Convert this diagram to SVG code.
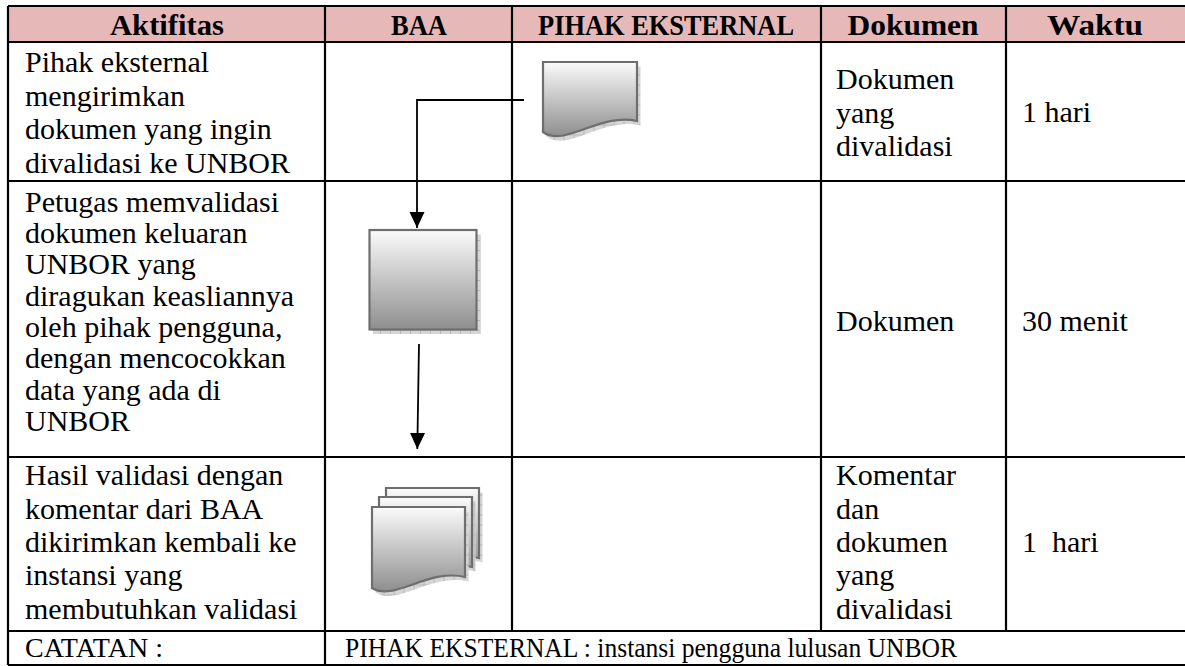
<svg xmlns="http://www.w3.org/2000/svg" width="1185" height="666" viewBox="0 0 1185 666">
  <defs>
    <style>
      .grid { stroke: #000; stroke-width: 2.2; fill: none; }
      .hd { font-family: "Liberation Serif", serif; font-weight: bold; font-size: 29px; text-anchor: middle; fill: #000; }
      .tx { font-family: "Liberation Serif", serif; font-size: 30px; fill: #000; }
      .nt { font-family: "Liberation Serif", serif; font-size: 27px; fill: #000; }
      .shape { fill: url(#shade); stroke: #6e6e6e; stroke-width: 2.2; }
      .shadow { fill: url(#hatch); stroke: none; }
      .conn { stroke: #000; stroke-width: 1.8; fill: none; }
    </style>
    <linearGradient id="shade" x1="0" y1="0" x2="0" y2="1">
      <stop offset="0" stop-color="#fbfbfb"/>
      <stop offset="1" stop-color="#8e8e8e"/>
    </linearGradient>
    <pattern id="hatch" width="10" height="10" patternUnits="userSpaceOnUse">
      <rect width="10" height="10" fill="#d6d6d6"/>
      <path d="M0 0.5H10M0.5 0V10" stroke="#b8b8b8" stroke-width="1"/>
    </pattern>
    <marker id="arrow" markerUnits="userSpaceOnUse" markerWidth="16" markerHeight="16" viewBox="0 0 16 16" refX="16" refY="8" orient="auto">
      <path d="M0,0.5 L16,8 L0,15.5 Z" fill="#000"/>
    </marker>
  </defs>

  <rect width="1185" height="666" fill="#fff"/>

  <!-- table frame -->
  <g id="table">
    <rect x="8" y="6" width="1180" height="36" fill="#e6b8b7"/>
    <path class="grid" d="M8,6H1188M8,42H1188M8,181H1188M8,457H1188M8,631H1188M8,665H1188"/>
    <path class="grid" d="M8,6V665M325,6V665M512,6V631M821,6V631M1006,6V631"/>
  </g>

  <!-- column headers -->
  <g id="headers">
    <text class="hd" x="167" y="35" textLength="114" lengthAdjust="spacingAndGlyphs">Aktifitas</text>
    <text class="hd" x="419" y="35" textLength="56" lengthAdjust="spacingAndGlyphs">BAA</text>
    <text class="hd" x="666" y="35" textLength="256" lengthAdjust="spacingAndGlyphs">PIHAK EKSTERNAL</text>
    <text class="hd" x="913" y="35" textLength="131" lengthAdjust="spacingAndGlyphs">Dokumen</text>
    <text class="hd" x="1095" y="35" textLength="96" lengthAdjust="spacingAndGlyphs">Waktu</text>
  </g>

  <!-- row 1 -->
  <g id="row1">
    <text class="tx" x="25" y="71.5">Pihak eksternal</text>
    <text class="tx" x="25" y="105.5">mengirimkan</text>
    <text class="tx" x="25" y="139">dokumen yang ingin</text>
    <text class="tx" x="25" y="173">divalidasi ke UNBOR</text>
    <text class="tx" x="836" y="89">Dokumen</text>
    <text class="tx" x="836" y="122.5">yang</text>
    <text class="tx" x="836" y="156">divalidasi</text>
    <text class="tx" x="1022" y="122">1 hari</text>
  </g>

  <!-- row 2 -->
  <g id="row2">
    <text class="tx" x="25" y="212">Petugas memvalidasi</text>
    <text class="tx" x="25" y="243">dokumen keluaran</text>
    <text class="tx" x="25" y="274">UNBOR yang</text>
    <text class="tx" x="25" y="305.5">diragukan keasliannya</text>
    <text class="tx" x="25" y="337">oleh pihak pengguna,</text>
    <text class="tx" x="25" y="368">dengan mencocokkan</text>
    <text class="tx" x="25" y="399.5">data yang ada di</text>
    <text class="tx" x="25" y="431">UNBOR</text>
    <text class="tx" x="836" y="330.5">Dokumen</text>
    <text class="tx" x="1022" y="330.5">30 menit</text>
  </g>

  <!-- row 3 -->
  <g id="row3">
    <text class="tx" x="25" y="485">Hasil validasi dengan</text>
    <text class="tx" x="25" y="518.5">komentar dari BAA</text>
    <text class="tx" x="25" y="552">dikirimkan kembali ke</text>
    <text class="tx" x="25" y="585">instansi yang</text>
    <text class="tx" x="25" y="618.5">membutuhkan validasi</text>
    <text class="tx" x="836" y="485">Komentar</text>
    <text class="tx" x="836" y="518.5">dan</text>
    <text class="tx" x="836" y="552">dokumen</text>
    <text class="tx" x="836" y="585">yang</text>
    <text class="tx" x="836" y="618.5">divalidasi</text>
    <text class="tx" x="1022" y="552" xml:space="preserve">1  hari</text>
  </g>

  <!-- notes row -->
  <g id="notes">
    <text class="nt" x="25" y="657" textLength="138" lengthAdjust="spacingAndGlyphs">CATATAN :</text>
    <text class="nt" x="345" y="657" textLength="612" lengthAdjust="spacingAndGlyphs">PIHAK EKSTERNAL : instansi pengguna lulusan UNBOR</text>
  </g>

  <!-- connectors -->
  <g id="connectors">
    <path class="conn" d="M524,100 H417 V228" marker-end="url(#arrow)"/>
    <path class="conn" d="M419,344 L417.3,449" marker-end="url(#arrow)"/>
  </g>

  <!-- document sent by the external party -->
  <g id="doc-external">
    <path class="shadow" transform="translate(3.5,4.5)" d="M543,62 H637 V121 C600,112 565,148 543,132 Z"/>
    <path class="shape" d="M543,62 H637 V121 C600,112 565,148 543,132 Z"/>
  </g>

  <!-- validation process -->
  <g id="proc-validate">
    <rect class="shadow" x="373" y="234.5" width="107.5" height="99.5"/>
    <rect class="shape" x="369.5" y="230" width="107" height="99.5"/>
  </g>

  <!-- returned documents -->
  <g id="multidoc-result">
    <path class="shadow" transform="translate(3.5,4.5)" d="M386,488 H479 V558 C442,549 408,583 386,569 Z"/>
    <path class="shape" d="M386,488 H479 V558 C442,549 408,583 386,569 Z"/>
    <path class="shadow" transform="translate(3.5,4.5)" d="M379,497 H472 V567 C435,558 401,592 379,578 Z"/>
    <path class="shape" d="M379,497 H472 V567 C435,558 401,592 379,578 Z"/>
    <path class="shadow" transform="translate(3.5,4.5)" d="M372,507 H465 V577 C428,568 394,602 372,588 Z"/>
    <path class="shape" d="M372,507 H465 V577 C428,568 394,602 372,588 Z"/>
  </g>
</svg>
